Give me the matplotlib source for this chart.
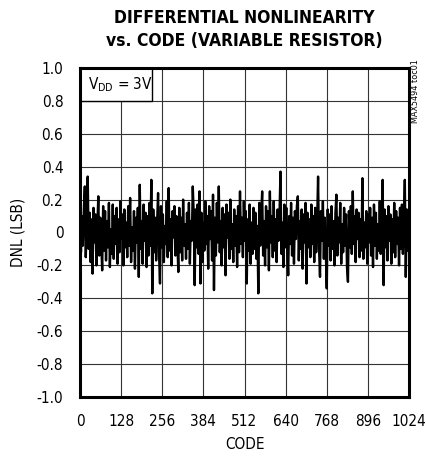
import numpy as np
import matplotlib
matplotlib.use("Agg")
import matplotlib.pyplot as plt
from matplotlib.patches import Rectangle

plt.rcParams['font.family'] = ['DejaVu Sans']
plt.rcParams['font.stretch'] = 'condensed'
plt.rcParams['mathtext.fontset'] = 'custom'
plt.rcParams['mathtext.rm'] = 'DejaVu Sans:stretch=condensed'

# DNL, one sample every 3 codes
dnl = [
    0.05, -0.12, 0.10, -0.08, 0.14, 0.28, -0.15, 0.06, 0.34, -0.10,
    0.12, -0.18, 0.08, -0.25, 0.15, -0.06, 0.11, -0.20, 0.04, 0.22,
    -0.14, 0.09, -0.05, -0.23, 0.16, -0.11, 0.13, -0.17, 0.07, -0.09,
    0.18, -0.21, 0.02, -0.13, 0.17, -0.16, 0.10, -0.07, 0.15, -0.19,
    0.08, -0.12, 0.19, -0.04, 0.11, -0.20, 0.14, -0.09, 0.06, -0.15,
    0.16, -0.08, 0.21, -0.18, 0.03, -0.11, 0.13, -0.22, 0.09, -0.06,
    0.15, -0.27, 0.29, -0.10, 0.07, -0.19, 0.17, -0.05, 0.12, -0.21,
    0.10, -0.14, 0.18, -0.08, 0.32, -0.37, 0.14, -0.12, 0.09, -0.17,
    0.06, 0.24, -0.13, -0.31, 0.16, -0.09, 0.11, -0.18, 0.04, -0.07,
    0.19, -0.15, 0.27, -0.11, 0.08, -0.20, 0.13, -0.03, 0.16, -0.14,
    0.10, -0.06, -0.24, 0.15, -0.12, 0.09, -0.17, 0.20, -0.08, 0.05,
    -0.16, 0.12, -0.10, 0.18, -0.19, 0.07, -0.05, 0.28, 0.11, -0.32,
    0.14, -0.09, 0.17, -0.13, 0.25, -0.31, 0.12, -0.18, 0.06, -0.11,
    0.19, -0.07, 0.10, -0.22, 0.16, -0.04, 0.13, -0.17, 0.23, -0.35,
    0.09, -0.14, 0.18, -0.06, 0.28, -0.12, 0.07, -0.20, 0.15, -0.09,
    0.11, -0.26, 0.17, -0.03, 0.12, -0.16, 0.20, -0.10, 0.05, -0.18,
    0.14, -0.08, 0.10, -0.21, 0.16, -0.12, 0.25, -0.07, 0.09, -0.15,
    0.19, -0.05, 0.13, -0.31, 0.08, -0.11, 0.17, -0.19, 0.06, -0.13,
    0.15, -0.10, 0.12, -0.16, 0.04, -0.37, 0.18, -0.08, 0.11, 0.25,
    -0.14, 0.07, -0.20, 0.16, -0.09, 0.13, -0.23, 0.25, -0.06, 0.10,
    -0.15, 0.19, -0.11, 0.08, -0.18, 0.14, -0.05, 0.12, 0.37, -0.13,
    0.06, -0.21, 0.17, -0.09, 0.15, -0.12, -0.26, 0.10, -0.07, 0.18,
    -0.14, 0.09, -0.19, 0.13, -0.04, 0.16, 0.22, -0.17, 0.07, -0.10,
    0.14, -0.22, 0.11, -0.06, 0.18, -0.31, 0.12, -0.09, 0.08, -0.15,
    0.17, -0.07, 0.10, -0.18, 0.15, -0.12, 0.06, 0.34, -0.10, -0.27,
    0.13, -0.05, 0.19, -0.16, 0.09, -0.11, -0.34, 0.14, -0.08, 0.11,
    -0.17, 0.16, -0.10, 0.07, -0.20, 0.12, 0.23, -0.14, 0.09, -0.06,
    0.18, -0.19, 0.05, -0.12, 0.15, -0.08, 0.11, -0.21, -0.30, 0.13,
    -0.09, 0.16, -0.13, 0.25, -0.07, 0.10, -0.18, 0.14, -0.04, 0.12,
    -0.15, 0.08, -0.11, 0.33, -0.16, 0.06, -0.09, 0.13, -0.19, 0.11,
    -0.06, 0.15, -0.14, 0.09, -0.21, 0.17, -0.08, 0.12, -0.16, 0.05,
    -0.11, 0.19, -0.13, 0.07, 0.32, -0.32, 0.14, -0.09, 0.10, -0.17,
    0.16, -0.05, 0.11, -0.19, 0.08, -0.12, 0.18, -0.15, 0.13, -0.07,
    0.09, -0.20, 0.15, -0.10, 0.17, -0.13, 0.06, 0.32, -0.27, 0.14,
    -0.11, 0.08,
]
code = np.arange(len(dnl)) * 3

xticks = [0, 128, 256, 384, 512, 640, 768, 896, 1024]
yticks = [-1.0, -0.8, -0.6, -0.4, -0.2, 0, 0.2, 0.4, 0.6, 0.8, 1.0]
yticklabels = ["-1.0", "-0.8", "-0.6", "-0.4", "-0.2", "0",
               "0.2", "0.4", "0.6", "0.8", "1.0"]

fig = plt.figure(figsize=(4.26, 4.58), dpi=100)
ax = fig.add_axes([80/426, 1 - 397/458, 329/426, 329/458])

ax.plot(code, dnl, color='black', lw=1.7, zorder=3)

ax.set_xlim(0, 1024)
ax.set_ylim(-1.0, 1.0)
ax.set_xticks(xticks)
ax.set_yticks(yticks)
ax.set_yticklabels(yticklabels)
ax.grid(True, color='#333333', lw=0.8)
ax.tick_params(length=0, labelsize=11, pad=12)
for s in ax.spines.values():
    s.set_linewidth(2.2)
    s.set_zorder(5)

ax.set_xlabel("CODE", fontsize=11, labelpad=6)
ax.set_ylabel("DNL (LSB)", fontsize=11, labelpad=8)

# supply voltage box in the top-left corner
ax.add_patch(Rectangle((0, 0.9), 0.22, 0.1, transform=ax.transAxes,
                       facecolor='white', edgecolor='black', lw=1.0, zorder=4))
ax.text(0.025, 0.95, r'$\mathrm{V_{DD}}$ = 3V', transform=ax.transAxes,
        fontsize=11, va='center', ha='left', zorder=6)

fig.text(244.5/426, 1 - 18/458, "DIFFERENTIAL NONLINEARITY",
         ha='center', va='center', fontsize=12.5, fontweight='bold')
fig.text(244.5/426, 1 - 41/458, "vs. CODE (VARIABLE RESISTOR)",
         ha='center', va='center', fontsize=12.5, fontweight='bold')
fig.text(415/426, 1 - 91/458, "MAX5494 toc01", rotation=90,
         ha='center', va='center', fontsize=6.5)

fig.savefig("out.png", dpi=100)
